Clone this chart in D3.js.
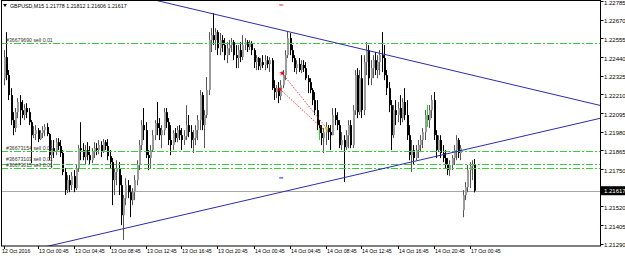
<!DOCTYPE html>
<html>
<head>
<meta charset="utf-8">
<script src="https://cdn.jsdelivr.net/npm/d3@7"></script>
<style>
body { margin: 0; background: #fff; }
svg text { font-family: "Liberation Sans", Arial, sans-serif; }
</style>
</head>
<body>
<svg id="chart" width="625" height="258"></svg>
<script>
// GBPUSD M15, 12 Oct 21:00 .. 17 Oct 01:15
const symbolName = "GBPUSD,M15";
const lastQuote = [1.21778, 1.21812, 1.21606, 1.21617];
const bid = 1.21617;

const opens = [
	1.22310,1.22440,1.22329,1.22206,1.22052,1.22003,1.22101,1.22163,1.22113,1.22083,
	1.22126,1.22101,1.22039,1.21959,1.21966,1.21990,1.21935,1.21972,1.21990,1.22009,
	1.21966,1.21836,1.21879,1.21855,1.21916,1.21892,1.21849,1.21732,1.21621,1.21682,
	1.21651,1.21707,1.21633,1.21756,1.21879,1.21867,1.21824,1.21867,1.21836,1.21805,
	1.21855,1.21879,1.21867,1.21898,1.21855,1.21916,1.21892,1.21830,1.21793,1.21682,
	1.21732,1.21756,1.21651,1.21466,1.21571,1.21651,1.21608,1.21559,1.21608,1.21682,
	1.21775,1.21898,1.22021,1.21990,1.21836,1.21818,1.21867,1.21959,1.22033,1.22003,
	1.21959,1.21990,1.22101,1.22039,1.21929,1.21898,1.21972,1.21941,1.21990,1.21959,
	1.21929,1.21953,1.22021,1.21978,1.21929,1.21941,1.21990,1.22052,1.22206,1.22021,
	1.22083,1.22237,1.22545,1.22575,1.22545,1.22594,1.22495,1.22545,1.22514,1.22452,
	1.22495,1.22514,1.22532,1.22452,1.22434,1.22483,1.22440,1.22514,1.22532,1.22502,
	1.22526,1.22483,1.22409,1.22434,1.22384,1.22409,1.22391,1.22421,1.22397,1.22421,
	1.22249,1.22224,1.22249,1.22200,1.22267,1.22329,1.22452,1.22557,1.22483,1.22434,
	1.22372,1.22397,1.22360,1.22391,1.22372,1.22310,1.22286,1.22237,1.22175,1.22113,
	1.22021,1.21972,1.21941,1.21978,1.22003,1.21978,1.21959,1.22083,1.22052,1.22021,
	1.21898,1.21929,1.21885,1.21959,1.22021,1.21898,1.22113,1.22329,1.22101,1.22310,
	1.22113,1.22409,1.22483,1.22310,1.22372,1.22421,1.22360,1.22409,1.22452,1.22434,
	1.22329,1.22249,1.22144,1.21959,1.22113,1.22083,1.22126,1.22064,1.22163,1.22083,
	1.21959,1.21836,1.21867,1.21818,1.21867,1.21898,1.21929,1.21978,1.22083,1.22052,
	1.22113,1.22175,1.21959,1.21867,1.21929,1.21849,1.21818,1.21775,1.21744,1.21775,
	1.21818,1.21867,1.21929,1.21849,1.21497,1.21590,1.21639,1.21744,1.21768,1.21778
];
const highs = [
	1.22483,1.22594,1.22360,1.22249,1.22101,1.22126,1.22187,1.22206,1.22175,1.22150,
	1.22156,1.22126,1.22052,1.22015,1.22021,1.22003,1.21990,1.22015,1.22027,1.22033,
	1.21972,1.21929,1.21929,1.21941,1.21941,1.21929,1.21867,1.21756,1.21713,1.21713,
	1.21732,1.21744,1.21775,1.21898,1.22039,1.21910,1.21898,1.21916,1.21892,1.21879,
	1.21916,1.21910,1.21929,1.21922,1.21935,1.21929,1.21935,1.21867,1.21818,1.21756,
	1.21805,1.21793,1.21713,1.21590,1.21694,1.21682,1.21651,1.21633,1.21713,1.21805,
	1.21929,1.22052,1.22126,1.22039,1.21867,1.21898,1.21990,1.22052,1.22163,1.22064,
	1.22021,1.22126,1.22126,1.22064,1.22021,1.21990,1.22003,1.22015,1.22021,1.22003,
	1.21990,1.22144,1.22083,1.22021,1.21990,1.22021,1.22083,1.22237,1.22224,1.22113,
	1.22317,1.22594,1.22618,1.22711,1.22618,1.22606,1.22588,1.22575,1.22557,1.22532,
	1.22545,1.22557,1.22545,1.22514,1.22514,1.22532,1.22575,1.22557,1.22545,1.22545,
	1.22538,1.22495,1.22452,1.22440,1.22434,1.22452,1.22452,1.22446,1.22440,1.22434,
	1.22298,1.22267,1.22286,1.22298,1.22360,1.22483,1.22600,1.22588,1.22514,1.22452,
	1.22421,1.22434,1.22421,1.22421,1.22409,1.22329,1.22310,1.22249,1.22224,1.22175,
	1.22052,1.22021,1.22003,1.22039,1.22021,1.22021,1.22126,1.22126,1.22101,1.22052,
	1.21978,1.21959,1.21990,1.22052,1.22052,1.22144,1.22360,1.22372,1.22360,1.22452,
	1.22452,1.22532,1.22514,1.22421,1.22452,1.22471,1.22452,1.22483,1.22594,1.22514,
	1.22360,1.22286,1.22175,1.22144,1.22175,1.22163,1.22206,1.22187,1.22249,1.22175,
	1.22021,1.21929,1.21898,1.21898,1.21929,1.21959,1.22003,1.22113,1.22126,1.22144,
	1.22206,1.22224,1.21990,1.21959,1.21959,1.21898,1.21867,1.21818,1.21805,1.21836,
	1.21898,1.21959,1.21941,1.21898,1.21621,1.21670,1.21775,1.21793,1.21805,1.21812
];
const lows = [
	1.22267,1.22298,1.22175,1.22021,1.21959,1.21978,1.22064,1.22021,1.22064,1.22052,
	1.22064,1.22021,1.21787,1.21941,1.21929,1.21916,1.21929,1.21941,1.21953,1.21953,
	1.21805,1.21756,1.21818,1.21836,1.21867,1.21824,1.21713,1.21590,1.21602,1.21608,
	1.21621,1.21608,1.21621,1.21732,1.21805,1.21805,1.21775,1.21805,1.21775,1.21787,
	1.21818,1.21836,1.21842,1.21824,1.21849,1.21867,1.21805,1.21756,1.21528,1.21590,
	1.21651,1.21590,1.21405,1.21313,1.21528,1.21571,1.21454,1.21528,1.21559,1.21651,
	1.21744,1.21867,1.21929,1.21818,1.21744,1.21756,1.21855,1.21929,1.21959,1.21929,
	1.21879,1.21959,1.22003,1.21898,1.21836,1.21867,1.21916,1.21916,1.21929,1.21867,
	1.21898,1.21929,1.21947,1.21879,1.21849,1.21898,1.21929,1.21990,1.21990,1.21879,
	1.22064,1.22206,1.22471,1.22514,1.22483,1.22452,1.22452,1.22471,1.22421,1.22403,
	1.22452,1.22471,1.22421,1.22372,1.22372,1.22409,1.22421,1.22483,1.22471,1.22483,
	1.22452,1.22372,1.22360,1.22360,1.22360,1.22372,1.22360,1.22372,1.22348,1.22237,
	1.22175,1.22187,1.22156,1.22175,1.22249,1.22298,1.22434,1.22452,1.22409,1.22348,
	1.22335,1.22348,1.22341,1.22348,1.22298,1.22218,1.22218,1.22144,1.22083,1.21990,
	1.21941,1.21898,1.21849,1.21898,1.21929,1.21867,1.21959,1.22021,1.21990,1.21879,
	1.21867,1.21670,1.21867,1.21879,1.21879,1.21879,1.22083,1.22064,1.22083,1.22064,
	1.22083,1.22329,1.22267,1.22267,1.22310,1.22329,1.22310,1.22329,1.22348,1.22298,
	1.22206,1.22101,1.21867,1.21941,1.22021,1.22039,1.22021,1.22039,1.22052,1.21929,
	1.21805,1.21732,1.21775,1.21805,1.21818,1.21855,1.21879,1.21929,1.22021,1.22003,
	1.22064,1.21929,1.21818,1.21855,1.21818,1.21793,1.21756,1.21713,1.21707,1.21744,
	1.21775,1.21805,1.21818,1.21805,1.21454,1.21559,1.21608,1.21633,1.21682,1.21606
];
const closes = [
	1.22440,1.22329,1.22206,1.22052,1.22003,1.22101,1.22163,1.22113,1.22083,1.22126,
	1.22101,1.22039,1.21959,1.21966,1.21990,1.21935,1.21972,1.21990,1.22009,1.21966,
	1.21836,1.21879,1.21855,1.21916,1.21892,1.21849,1.21732,1.21621,1.21682,1.21651,
	1.21707,1.21633,1.21756,1.21879,1.21867,1.21824,1.21867,1.21836,1.21805,1.21855,
	1.21879,1.21867,1.21898,1.21855,1.21916,1.21892,1.21830,1.21793,1.21682,1.21732,
	1.21756,1.21651,1.21466,1.21571,1.21651,1.21608,1.21559,1.21608,1.21682,1.21775,
	1.21898,1.22021,1.21990,1.21836,1.21818,1.21867,1.21959,1.22033,1.22003,1.21959,
	1.21990,1.22101,1.22039,1.21929,1.21898,1.21972,1.21941,1.21990,1.21959,1.21929,
	1.21953,1.22021,1.21978,1.21929,1.21941,1.21990,1.22052,1.22206,1.22021,1.22083,
	1.22237,1.22545,1.22575,1.22545,1.22594,1.22495,1.22545,1.22514,1.22452,1.22495,
	1.22514,1.22532,1.22452,1.22434,1.22483,1.22440,1.22514,1.22532,1.22502,1.22526,
	1.22483,1.22409,1.22434,1.22384,1.22409,1.22391,1.22421,1.22397,1.22421,1.22249,
	1.22224,1.22249,1.22200,1.22267,1.22329,1.22452,1.22557,1.22483,1.22434,1.22372,
	1.22397,1.22360,1.22391,1.22372,1.22310,1.22286,1.22237,1.22175,1.22113,1.22021,
	1.21972,1.21941,1.21978,1.22003,1.21978,1.21959,1.22083,1.22052,1.22021,1.21898,
	1.21929,1.21885,1.21959,1.22021,1.21898,1.22113,1.22329,1.22101,1.22310,1.22113,
	1.22409,1.22483,1.22310,1.22372,1.22421,1.22360,1.22409,1.22452,1.22434,1.22329,
	1.22249,1.22144,1.21959,1.22113,1.22083,1.22126,1.22064,1.22163,1.22083,1.21959,
	1.21836,1.21867,1.21818,1.21867,1.21898,1.21929,1.21978,1.22083,1.22052,1.22113,
	1.22175,1.21959,1.21867,1.21929,1.21849,1.21818,1.21775,1.21744,1.21775,1.21818,
	1.21867,1.21929,1.21849,1.21879,1.21590,1.21639,1.21744,1.21768,1.21778,1.21617
];

const priceTicks = [1.22785,1.22670,1.22555,1.22440,1.22325,1.22210,1.22095,
	1.21980,1.21865,1.21750,1.21635,1.21520,1.21405,1.21290];

const timeTickBars = [0,15,31,47,63,79,95,111,127,143,159,175,191,207];
const timeTickLabels = ["12 Oct 2016","13 Oct 00:45","13 Oct 04:45","13 Oct 08:45",
	"13 Oct 12:45","13 Oct 16:45","13 Oct 20:45","14 Oct 00:45","14 Oct 04:45",
	"14 Oct 08:45","14 Oct 12:45","14 Oct 16:45","14 Oct 20:45","17 Oct 00:45"];

// pending sell orders
const orderPrices = [1.22525, 1.21860, 1.21780, 1.21755];
const orderLabels = ["#36679690 sell 0.01","#36673154 sell 0.01","#36673103 sell 0.01","#36673015 sell 0.01"];

// trend lines (bar index, price), drawn as rays
const trendUpper = [[70, 1.22782], [156, 1.22500]];
const trendLower = [[22, 1.21283], [156, 1.21713]];

// closed order history (open -> close)
const historyFrom = [[123.7, 1.22341], [122.8, 1.22242]];
const historyTo = [[143.5, 1.22002], [142.3, 1.21991]];

// small markers
const redDash = [123.3, 1.22761];
const blueDash = [123.3, 1.21696];
const greenMarks = [[140.1, 1.22003, 1.21930], [188.1, 1.22145, 1.22010]];

const W = 625, H = 258;
const plot = {left: 1, top: 1, right: 600.5, bottom: 246};

const svg = d3.select("#chart");

const x = d3.scaleLinear().domain([0, 209]).range([3.75, 474]);
const y = d3.scaleLinear().domain([1.21290, 1.22785]).range([243.8, 1.1]);

svg.append("defs").append("clipPath").attr("id", "plotclip")
	.append("rect")
	.attr("x", plot.left).attr("y", plot.top)
	.attr("width", plot.right - plot.left).attr("height", plot.bottom - plot.top);

const g = svg.append("g").attr("clip-path", "url(#plotclip)");

// bid line
g.append("line")
	.attr("x1", plot.left).attr("x2", plot.right)
	.attr("y1", Math.round(y(bid)) + 0.5).attr("y2", Math.round(y(bid)) + 0.5)
	.attr("stroke", "#a8a8a8").attr("stroke-width", 1);

// candles
const bars = d3.range(closes.length).map(i => ({
	i: i, o: opens[i], h: highs[i], l: lows[i], c: closes[i]
}));

const candle = g.append("g").selectAll("g").data(bars).enter().append("g");

candle.append("line")
	.attr("x1", d => Math.round(x(d.i)) + 0.5)
	.attr("x2", d => Math.round(x(d.i)) + 0.5)
	.attr("y1", d => y(d.h))
	.attr("y2", d => y(d.l))
	.attr("stroke", d => d.c > d.o ? "#555" : "#000")
	.attr("stroke-width", 1);

candle.append("rect")
	.attr("x", d => Math.round(x(d.i)))
	.attr("width", 2)
	.attr("y", d => y(Math.max(d.o, d.c)))
	.attr("height", d => Math.max(1, Math.abs(y(d.o) - y(d.c))))
	.attr("fill", d => d.c > d.o ? "#9c9c9c" : "#000");

// pending order lines
g.append("g").selectAll("line").data(orderPrices).enter().append("line")
	.attr("x1", plot.left).attr("x2", plot.right)
	.attr("y1", d => Math.round(y(d)) + 0.5).attr("y2", d => Math.round(y(d)) + 0.5)
	.attr("stroke", "#3ccc3c").attr("stroke-width", 1)
	.attr("stroke-dasharray", "7,2,2,2");

svg.append("g").selectAll("text").data(orderLabels).enter().append("text")
	.attr("x", 6)
	.attr("y", (d, i) => y(orderPrices[i]) - 1.5 + (i == 2 ? -2 : 0))
	.attr("font-size", "5.2px")
	.attr("fill", "#333")
	.text(d => d);

// trend lines as rays
function ray(pts) {
	const [a, b] = pts;
	const slope = (b[1] - a[1]) / (b[0] - a[0]);
	const xEnd = 300;
	return [[a[0] - 200, a[1] - 200 * slope], [xEnd, a[1] + (xEnd - a[0]) * slope]];
}
const lineGen = d3.line().x(d => x(d[0])).y(d => y(d[1]));
[trendUpper, trendLower].forEach(t => {
	g.append("path")
		.attr("d", lineGen(ray(t)))
		.attr("fill", "none")
		.attr("stroke", "#2c2ca6")
		.attr("stroke-width", 1);
});

// order history
historyFrom.forEach((p, k) => {
	g.append("path")
		.attr("d", lineGen([p, historyTo[k]]))
		.attr("fill", "none")
		.attr("stroke", "#ff3030")
		.attr("stroke-width", 1)
		.attr("stroke-dasharray", "1.5,1.5");
	g.append("path")
		.attr("d", d3.symbol(d3.symbolStar, 9)())
		.attr("transform", "translate(" + x(p[0]) + "," + y(p[1]) + ")")
		.attr("fill", "#ff0000");
});
g.append("rect")
	.attr("x", x(historyTo[0][0]) - 1.5).attr("y", y(historyTo[0][1]) - 1.5)
	.attr("width", 3).attr("height", 3)
	.attr("fill", "#f0c020");

g.append("line")
	.attr("x1", x(redDash[0]) - 2).attr("x2", x(redDash[0]) + 2)
	.attr("y1", y(redDash[1])).attr("y2", y(redDash[1]))
	.attr("stroke", "#ff2020").attr("stroke-width", 1);
g.append("line")
	.attr("x1", x(blueDash[0]) - 2).attr("x2", x(blueDash[0]) + 2)
	.attr("y1", y(blueDash[1])).attr("y2", y(blueDash[1]))
	.attr("stroke", "#2020ff").attr("stroke-width", 1);

greenMarks.forEach(m => {
	g.append("line")
		.attr("x1", Math.round(x(m[0])) + 0.5).attr("x2", Math.round(x(m[0])) + 0.5)
		.attr("y1", y(m[1])).attr("y2", y(m[2]))
		.attr("stroke", "#22dd22").attr("stroke-width", 1);
});

// frame
svg.append("rect")
	.attr("x", plot.left + 0.5).attr("y", plot.top - 0.5)
	.attr("width", plot.right - plot.left - 0.5).attr("height", plot.bottom - plot.top + 0.5)
	.attr("fill", "none").attr("stroke", "#000").attr("stroke-width", 1);

// price axis
const yAxis = svg.append("g");
yAxis.selectAll("line").data(priceTicks).enter().append("line")
	.attr("x1", plot.right).attr("x2", plot.right + 3)
	.attr("y1", d => Math.round(y(d)) + 0.5).attr("y2", d => Math.round(y(d)) + 0.5)
	.attr("stroke", "#000");
yAxis.selectAll("text").data(priceTicks).enter().append("text")
	.attr("x", 604)
	.attr("y", d => y(d) + 3.6)
	.attr("font-size", "6px")
	.attr("fill", "#000")
	.text(d => d.toFixed(5));

// bid label
svg.append("rect")
	.attr("x", 601).attr("y", y(bid) - 4.5)
	.attr("width", 24).attr("height", 9)
	.attr("fill", "#000");
svg.append("text")
	.attr("x", 604).attr("y", y(bid) + 2.2)
	.attr("font-size", "6px")
	.attr("fill", "#fff")
	.text(bid.toFixed(5));

// time axis
const xAxis = svg.append("g");
xAxis.selectAll("line").data(timeTickBars).enter().append("line")
	.attr("x1", d => Math.round(x(d)) + 0.5).attr("x2", d => Math.round(x(d)) + 0.5)
	.attr("y1", plot.bottom).attr("y2", plot.bottom + 3)
	.attr("stroke", "#000");
xAxis.selectAll("text").data(timeTickLabels).enter().append("text")
	.attr("x", (d, i) => i == 0 ? 2 : Math.round(x(timeTickBars[i])) + 1)
	.attr("y", 253)
	.attr("font-size", "5.2px")
	.attr("fill", "#000")
	.text(d => d);

// header
svg.append("path")
	.attr("d", "M3,4 L7,4 L5,7 Z")
	.attr("fill", "#000");
svg.append("text")
	.attr("x", 10).attr("y", 8)
	.attr("font-size", "5.3px")
	.attr("fill", "#000")
	.text(symbolName + "  " + lastQuote.map(v => v.toFixed(5)).join(" "));
</script>
</body>
</html>
